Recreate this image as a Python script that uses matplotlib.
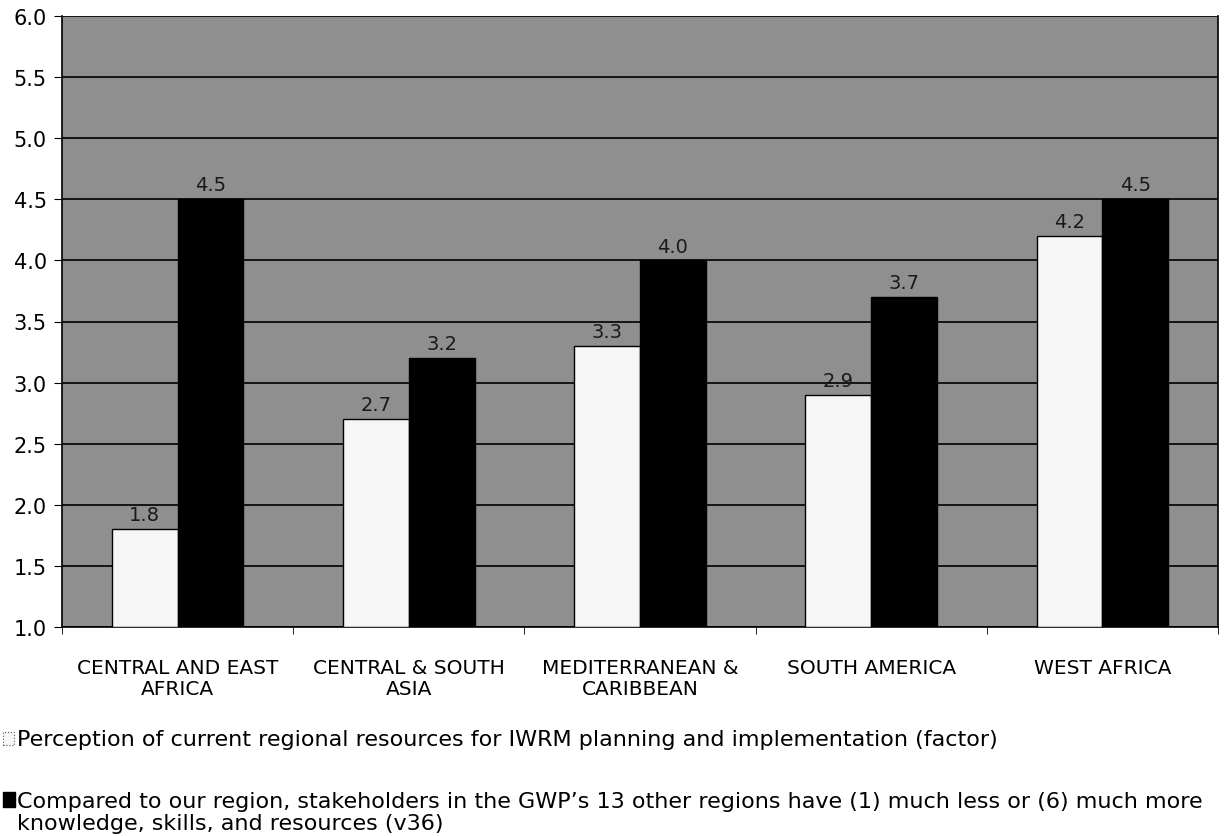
import matplotlib.pyplot as plt
from matplotlib.patches import Rectangle
import numpy as np

categorias = ["CENTRAL AND EAST\nAFRICA", "CENTRAL & SOUTH\nASIA", "MEDITERRANEAN &\nCARIBBEAN",
              "SOUTH AMERICA", "WEST AFRICA"]
percepcao = [1.8, 2.7, 3.3, 2.9, 4.2]
comparado = [4.5, 3.2, 4.0, 3.7, 4.5]
legenda1 = "Perception of current regional resources for IWRM planning and implementation (factor)"
legenda2 = ("Compared to our region, stakeholders in the GWP\u2019s 13 other regions have (1) much less or (6) much more\n"
            "knowledge, skills, and resources (v36)")

fig = plt.figure(figsize=(12.25, 8.37), dpi=100)
ax = fig.add_axes([62 / 1225, 1 - 628 / 837, 1156 / 1225, 611 / 837])
ax.set_facecolor("#8f8f8f")

x = np.arange(len(categorias))
w = 0.285
ax.bar(x - w / 2, np.array(percepcao) - 1, w, bottom=1, color="#f6f6f6", edgecolor="black", linewidth=1, zorder=3)
ax.bar(x + w / 2, np.array(comparado) - 1, w, bottom=1, color="black", edgecolor="black", linewidth=1, zorder=3)

# rotulos de valor
for xi, v in zip(x - w / 2, percepcao):
    ax.text(xi, v + 0.04, f"{v:.1f}", ha="center", va="bottom", fontsize=14, color="#1a1a1a", zorder=4)
for xi, v in zip(x + w / 2, comparado):
    ax.text(xi, v + 0.04, f"{v:.1f}", ha="center", va="bottom", fontsize=14, color="#1a1a1a", zorder=4)

ax.set_ylim(1.0, 6.0)
ax.set_xlim(-0.5, len(categorias) - 0.5)
yt = np.arange(1.0, 6.01, 0.5)
ax.set_yticks(yt)
ax.set_yticklabels([f"{t:.1f}" for t in yt], fontsize=15)
ax.yaxis.grid(True, color="black", linewidth=1.2, zorder=1)
ax.set_axisbelow(True)
ax.set_xticks(x)
ax.set_xticklabels(categorias, fontsize=14.5, linespacing=1.15)
ax.tick_params(axis="x", length=0, pad=22)
ax.set_xticks(np.arange(-0.5, len(categorias)), minor=True)
ax.tick_params(axis="x", which="minor", length=5)
ax.tick_params(axis="y", length=6, pad=5)
ax.spines["top"].set_visible(False)
for s in ["left", "bottom", "right"]:
    ax.spines[s].set_linewidth(1.2)

# legenda manual
fig.patches.append(Rectangle((3 / 1225, 1 - 746 / 837), 11 / 1225, 13 / 837, transform=fig.transFigure,
                             facecolor="#f6f6f6", edgecolor="#555555", linewidth=0.8, linestyle=":"))
fig.text(17 / 1225, 1 - 740 / 837, legenda1, fontsize=16, va="center", ha="left")
fig.patches.append(Rectangle((3 / 1225, 1 - 808 / 837), 12 / 1225, 15 / 837, transform=fig.transFigure,
                             facecolor="black", edgecolor="black"))
fig.text(17 / 1225, 1 - 813 / 837, legenda2, fontsize=16, va="center", ha="left", linespacing=1.15)

fig.savefig("out.png", dpi=100)
